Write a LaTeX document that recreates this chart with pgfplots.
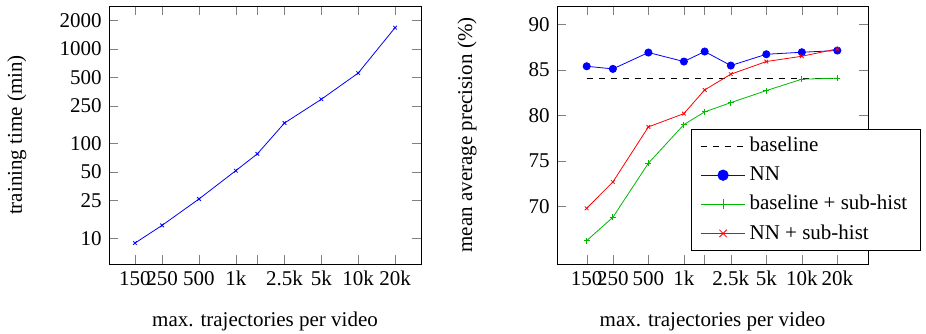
\documentclass[border=0pt]{standalone}
\usepackage{fontspec}
\setmainfont{Liberation Serif}
\usepackage{pgfplots}
\pgfplotsset{compat=1.18}
\definecolor{mygreen}{rgb}{0,0.72,0}
\begin{document}
\fontsize{10.5}{12.6}\selectfont
\begin{tikzpicture}
\pgfplotsset{
  every axis/.append style={
    scale only axis,
    height=129pt,
    xmode=log,
    font=\fontsize{10.5}{12.6}\selectfont,
    /pgf/number format/assume math mode=true,
    xtick={150,250,500,1000,1500,2500,5000,10000,20000},
    xticklabels={150,250,500,1k,,2.5k,5k,10k,20k},
    minor xtick={},
    xlabel={max. trajectories per video},
    xlabel style={at={(axis description cs:0.5,-0.2236)},anchor=center},
  },
}
\begin{axis}[
  at={(0pt,0pt)}, anchor=south west,
  width=156pt,
  ymode=log,
  xmin=92, xmax=32600,
  ymin=5.35, ymax=2840,
  ytick={10,25,50,100,250,500,1000,2000},
  yticklabels={10,25,50,100,250,500,1000,2000},
  minor ytick={},
  ylabel={training time (min)},
  ylabel style={at={(axis description cs:-0.295,0.5)},anchor=center},
]
\addplot[blue, mark=x, mark size=1.3pt] coordinates {
(150,8.9) (250,13.7) (500,26) (1000,51.8) (1500,78) (2500,165) (5000,294) (10000,556) (20000,1675)
};
\end{axis}
\begin{axis}[
  at={(224pt,0pt)}, anchor=south west,
  width=155.5pt,
  xmin=84, xmax=36400,
  ymin=63.66, ymax=92.0,
  ytick={70,75,80,85,90},
  ylabel={mean average precision (\%)},
  ylabel style={at={(axis description cs:-0.289,0.5)},anchor=center},
  legend style={at={(1.1695,0.0516)}, anchor=south east, font=\fontsize{10.5}{12.6}\selectfont,
    legend cell align=left, draw=black, row sep=1.8pt, inner xsep=4.5pt},
  legend image code/.code={\draw[mark repeat=2,mark phase=2,#1] plot coordinates {(0cm,0cm)(0.39cm,0cm)(0.78cm,0cm)};},
  legend image post style={mark size=2.6pt},
]
\addplot[black, dashed] coordinates {(150,84.1) (20000,84.1)};
\addlegendentry{baseline}
\addplot[blue, mark=*, mark size=1.8pt] coordinates {
(150,85.38) (250,85.09) (500,86.89) (1000,85.90) (1500,87.0) (2500,85.46) (5000,86.70) (10000,86.92) (20000,87.11)
};
\addlegendentry{NN}
\addplot[mygreen, mark=+, mark size=1.5pt] coordinates {
(150,66.23) (250,68.79) (500,74.73) (1000,78.97) (1500,80.37) (2500,81.39) (5000,82.71) (10000,83.96) (20000,84.07)
};
\addlegendentry{baseline + sub-hist}
\addplot[red, mark=x, mark size=1.3pt] coordinates {
(150,69.78) (250,72.67) (500,78.72) (1000,80.18) (1500,82.78) (2500,84.51) (5000,85.90) (10000,86.48) (20000,87.29)
};
\addlegendentry{NN + sub-hist}
\end{axis}
\pgfresetboundingbox
\path (-54.5pt,-34.5pt) rectangle (408.5pt,132pt);
\end{tikzpicture}
\end{document}
